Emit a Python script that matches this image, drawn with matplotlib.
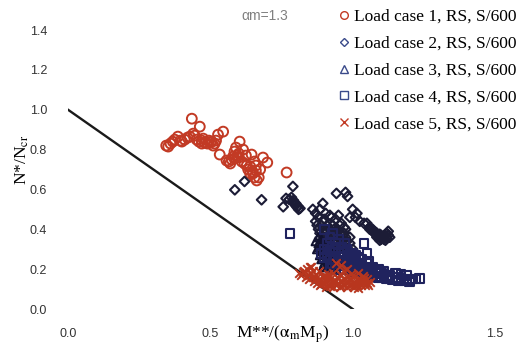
import numpy as np
import matplotlib
matplotlib.use("Agg")
import matplotlib.pyplot as plt
from matplotlib.lines import Line2D

# ---- data ----
line_x = [0.0, 1.0]
line_y = [1.0, 0.0]

lc1 = [(0.345,0.82),(0.352,0.815),(0.36,0.83),(0.368,0.84),(0.375,0.85),(0.386,0.865),
       (0.395,0.845),(0.40,0.84),(0.41,0.85),(0.42,0.86),(0.428,0.865),(0.435,0.955),
       (0.44,0.88),(0.445,0.87),(0.452,0.85),(0.46,0.84),(0.463,0.915),(0.47,0.83),
       (0.475,0.855),(0.48,0.835),(0.49,0.83),(0.495,0.845),(0.505,0.84),(0.51,0.82),
       (0.515,0.83),(0.52,0.845),(0.527,0.875),(0.533,0.775),(0.545,0.89),(0.557,0.745),
       (0.565,0.74),(0.57,0.73),(0.575,0.75),(0.58,0.765),(0.585,0.79),(0.59,0.81),
       (0.595,0.77),(0.60,0.76),(0.603,0.84),(0.61,0.74),(0.615,0.80),(0.62,0.73),
       (0.625,0.77),(0.628,0.72),(0.633,0.70),(0.64,0.715),(0.645,0.775),(0.648,0.69),
       (0.65,0.68),(0.655,0.74),(0.66,0.72),(0.663,0.645),(0.67,0.66),(0.675,0.70),
       (0.685,0.76),(0.70,0.735),(0.768,0.685),(0.64,0.68),(0.655,0.66),(0.66,0.695),
       (0.60,0.78),(0.585,0.755),(0.47,0.845),(0.50,0.835)]

lc2 = [(0.586,0.598),(0.62,0.64),(0.68,0.548),(0.756,0.513),(0.766,0.555),(0.777,0.55),
       (0.79,0.615),(0.79,0.535),(0.80,0.52),(0.81,0.50),(0.805,0.51),(0.795,0.53),
       (0.785,0.56),(0.792,0.545),(0.80,0.53),(0.808,0.515),(0.815,0.505),
       (0.86,0.50),(0.87,0.48),(0.88,0.46),(0.885,0.50),(0.895,0.53),(0.905,0.48),
       (0.925,0.46),(0.943,0.58),(0.975,0.585),(0.982,0.565),(0.99,0.46),(1.00,0.50),
       (1.01,0.46),(1.015,0.48),(1.025,0.44),(1.04,0.43),(1.05,0.43),(1.06,0.41),
       (1.07,0.40),(1.075,0.39),(1.085,0.38),(1.09,0.37),(1.095,0.375),(1.10,0.36),
       (1.11,0.36),(1.115,0.37),(1.12,0.38),(1.125,0.39),(1.13,0.36),(1.105,0.355),
       (1.08,0.385),(1.06,0.40),(1.07,0.39),(1.08,0.375),(1.09,0.365),(1.10,0.35),
       (1.11,0.35),(1.12,0.355),(1.125,0.37),(1.10,0.37),(1.085,0.36),(1.095,0.345),
       (1.115,0.345),
       (0.87,0.44),(0.875,0.42),(0.88,0.40),(0.885,0.38),(0.89,0.42),(0.895,0.44),
       (0.90,0.40),(0.905,0.38),(0.91,0.42),(0.915,0.36),(0.92,0.40),(0.925,0.38),
       (0.93,0.42),(0.935,0.34),(0.94,0.37),(0.945,0.40),(0.95,0.36),(0.955,0.33),
       (0.96,0.38),(0.965,0.35),(0.97,0.32),(0.975,0.36),(0.98,0.34),(0.985,0.30),
       (0.99,0.33),(0.995,0.28),(1.00,0.30),(0.90,0.34),(0.91,0.31),(0.92,0.33),
       (0.93,0.30),(0.94,0.28),(0.95,0.30),(0.96,0.27),(0.90,0.45),(0.92,0.47),
       (0.94,0.45),(0.96,0.43),(0.95,0.47),(0.97,0.41),(0.91,0.39),(0.93,0.36),
       (0.95,0.39),(0.97,0.38),(0.99,0.36),(0.935,0.40),(0.955,0.42),(0.975,0.40)]

lc3 = [(0.875,0.30),(0.88,0.33),(0.885,0.27),(0.89,0.25),(0.895,0.29),(0.90,0.32),
       (0.90,0.23),(0.905,0.27),(0.91,0.30),(0.915,0.24),(0.92,0.28),(0.925,0.22),
       (0.93,0.26),(0.935,0.29),(0.94,0.23),(0.945,0.26),(0.95,0.22),(0.955,0.25),
       (0.96,0.28),(0.88,0.36),(0.89,0.35),(0.87,0.34),(0.895,0.21),(0.91,0.21),
       (0.93,0.20),(0.885,0.31),(0.9,0.28),(0.92,0.31)]

lc4 = [(0.78,0.38),(1.04,0.33),(1.05,0.28),(1.055,0.24),(0.90,0.40),(0.92,0.36),
       (0.94,0.33),(0.96,0.31),(0.97,0.29),(0.98,0.27),(0.99,0.26),(1.00,0.25),
       (1.01,0.24),(1.02,0.23),(1.03,0.22),(1.04,0.21),(1.05,0.20),(1.06,0.20),
       (1.07,0.19),(1.08,0.19),(1.09,0.18),(1.10,0.18),(1.11,0.17),(1.12,0.17),
       (1.13,0.17),(1.14,0.16),(1.15,0.16),(1.16,0.16),(1.17,0.15),(1.18,0.15),
       (1.19,0.15),(1.20,0.145),(1.21,0.15),(1.22,0.15),(1.235,0.155),(1.00,0.21),
       (1.02,0.20),(1.04,0.18),(1.06,0.175),(1.08,0.165),(1.10,0.16),(1.12,0.15),
       (1.14,0.145),(1.16,0.14),(1.18,0.14),(1.20,0.135),(1.15,0.18),(1.17,0.175),
       (1.19,0.17),(1.11,0.19),(0.93,0.38),(0.95,0.35),(0.91,0.33),(0.93,0.31),
       (0.98,0.24),(0.96,0.22),(0.99,0.21),(1.01,0.27),(0.97,0.33),(0.95,0.28),
       (0.90,0.30),(0.91,0.27),(0.92,0.25),(0.93,0.23),(0.94,0.25),(0.95,0.24),
       (0.96,0.26),(0.97,0.24),(0.98,0.22),(0.99,0.23),(1.00,0.22),(1.01,0.21),
       (0.92,0.29),(0.94,0.30),(0.96,0.29),(0.98,0.30),(1.00,0.28),(1.02,0.26),
       (1.03,0.25),(1.05,0.23),(1.07,0.21),(1.09,0.20),(0.89,0.28),(0.90,0.26),
       (0.92,0.21),(0.94,0.20),(0.97,0.20),(1.00,0.19),(1.03,0.19),(1.06,0.185),
       (1.13,0.155),(1.07,0.17),(1.09,0.16)]

lc5 = [(0.81,0.18),(0.82,0.17),(0.83,0.19),(0.835,0.16),(0.84,0.20),(0.845,0.15),
       (0.85,0.18),(0.855,0.21),(0.86,0.16),(0.865,0.14),(0.87,0.17),(0.875,0.13),
       (0.88,0.15),(0.885,0.12),(0.89,0.14),(0.895,0.16),(0.90,0.13),(0.905,0.11),
       (0.91,0.14),(0.915,0.12),(0.92,0.15),(0.925,0.13),(0.93,0.11),(0.935,0.14),
       (0.94,0.12),(0.945,0.16),(0.95,0.13),(0.955,0.11),(0.96,0.14),(0.965,0.12),
       (0.97,0.15),(0.975,0.13),(0.98,0.11),(0.985,0.14),(0.99,0.12),(0.995,0.15),
       (1.00,0.13),(1.005,0.11),(1.01,0.14),(1.015,0.12),(1.02,0.15),(1.025,0.13),
       (1.03,0.12),(1.035,0.14),(1.04,0.13),(1.045,0.12),(1.05,0.13),(1.055,0.12),
       (0.85,0.21),(0.94,0.23),(0.96,0.22),(0.98,0.20),(0.97,0.19),(0.93,0.18),
       (0.90,0.17),(0.88,0.19),(1.00,0.17),(1.02,0.18),(0.86,0.19),
       (0.87,0.155),(0.89,0.125),(0.91,0.16),(0.93,0.135),(0.95,0.155),(0.97,0.125),
       (0.99,0.145),(1.01,0.125),(1.03,0.145),(1.05,0.15),(0.92,0.115),(0.94,0.14),
       (0.96,0.115),(0.98,0.16),(1.00,0.115),(1.02,0.105),(1.04,0.155),(0.915,0.175),
       (0.955,0.175),(0.995,0.175),(1.035,0.165),(0.825,0.185),(0.845,0.17),(1.06,0.135)]

labels = ["Load case 1, RS, S/600", "Load case 2, RS, S/600", "Load case 3, RS, S/600",
          "Load case 4, RS, S/600", "Load case 5, RS, S/600"]
xticks = [0.0, 0.5, 1.0, 1.5]
yticks = [0.0, 0.2, 0.4, 0.6, 0.8, 1.0, 1.2, 1.4]

# ---- plot ----
plt.rcParams['mathtext.fontset'] = 'stix'
fig = plt.figure(figsize=(5.24, 3.46), dpi=100)
ax = fig.add_axes([68/524, 37/346, 427/524, 279/346])
ax.set_xlim(0, 1.5)
ax.set_ylim(0, 1.4)
for s in ax.spines.values():
    s.set_visible(False)

ax.plot(line_x, line_y, color='#1a1a1a', lw=1.7, zorder=1)

red = '#c23a24'
a1, a2, a3, a4, a5 = (np.array(a) for a in (lc1, lc2, lc3, lc4, lc5))
ax.scatter(a1[:,0], a1[:,1], s=50, marker='o', facecolors='none', edgecolors=red, linewidths=1.4, zorder=3)
ax.scatter(a2[:,0], a2[:,1], s=24, marker='D', facecolors='none', edgecolors='#1c1c36', linewidths=1.5, zorder=3)
ax.scatter(a3[:,0], a3[:,1], s=34, marker='^', facecolors='none', edgecolors='#121330', linewidths=1.5, zorder=3)
ax.scatter(a4[:,0], a4[:,1], s=40, marker='s', facecolors='none', edgecolors='#20235e', linewidths=1.5, zorder=3)
ax.scatter(a5[:,0], a5[:,1], s=38, marker='x', color='#b8361e', linewidths=1.4, zorder=4)

ax.set_xticks(xticks)
ax.set_yticks(yticks)
ax.set_xticklabels([f"{v:.1f}" for v in xticks])
ax.set_yticklabels([f"{v:.1f}" for v in yticks])
ax.tick_params(length=0, labelsize=9, labelcolor='#333333')
ax.tick_params(axis='y', pad=15)
ax.tick_params(axis='x', pad=14)
for t in ax.get_xticklabels() + ax.get_yticklabels():
    t.set_family('Liberation Sans')

fig.text(22/524, 1 - 160/346, r"N*/N$_{\mathrm{cr}}$", rotation=90, ha='center', va='center',
         family='Liberation Serif', fontsize=12.5)
fig.text(283/524, 1 - 334/346, r"M**/($\mathrm{\alpha_m}$M$_{\mathrm{p}}$)", ha='center', va='center',
         family='Liberation Serif', fontsize=12.5)
fig.text(265/524, 1 - 16/346, "αm=1.3", ha='center', va='center', family='Liberation Sans',
         fontsize=10, color='#808080')

handles = [
    Line2D([], [], ls='none', marker='o', ms=5.5, mfc='none', mec=red, mew=1.0),
    Line2D([], [], ls='none', marker='D', ms=4.5, mfc='none', mec='#3a4a8a', mew=1.0),
    Line2D([], [], ls='none', marker='^', ms=5.5, mfc='none', mec='#3a4a8a', mew=1.0),
    Line2D([], [], ls='none', marker='s', ms=6, mfc='none', mec='#3a4a8a', mew=1.0),
    Line2D([], [], ls='none', marker='x', ms=6, color=red, mew=1.0),
]
leg = fig.legend(handles, labels, loc='upper right', bbox_to_anchor=(0.995, 0.99),
                 frameon=False, prop={'family': 'Liberation Serif', 'size': 12.5},
                 handlelength=0.6, handletextpad=0.25, labelspacing=0.62,
                 borderaxespad=0.2, borderpad=0.1)

fig.savefig("out.png", dpi=100)
